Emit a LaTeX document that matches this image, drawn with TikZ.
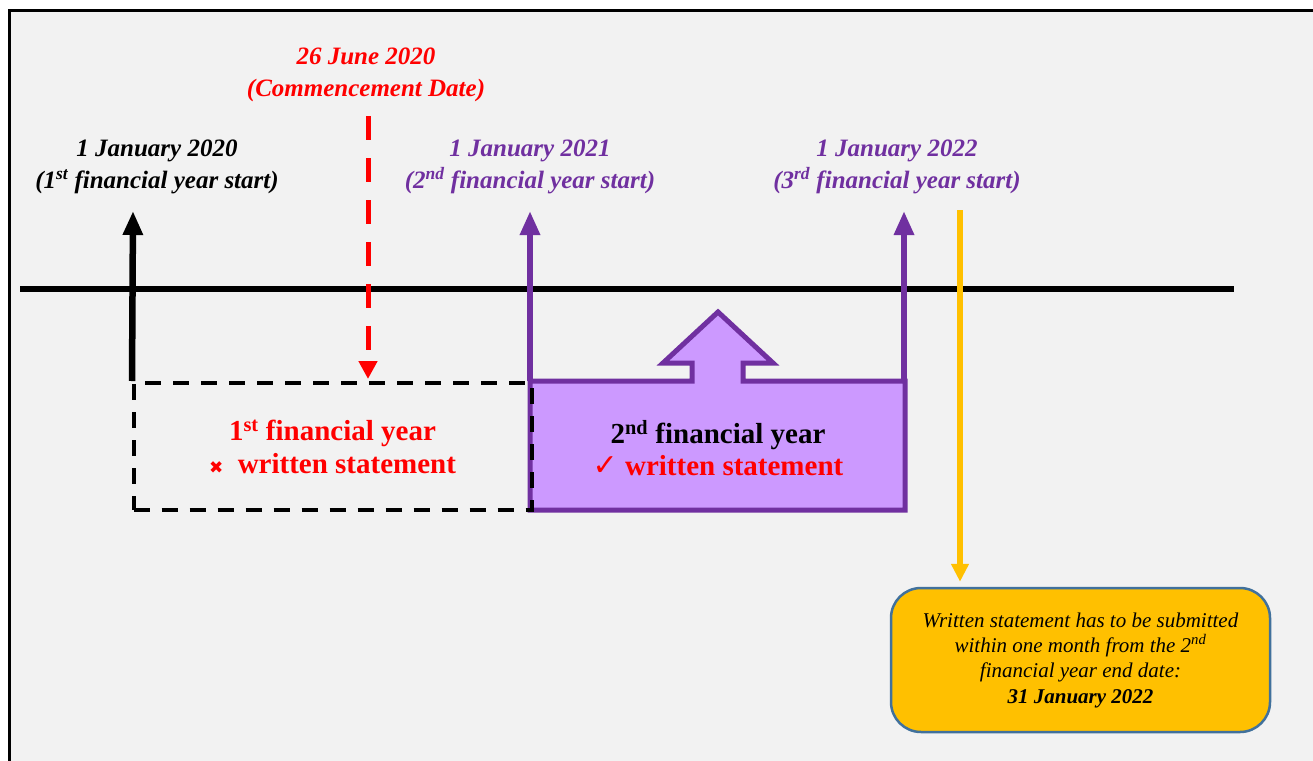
\documentclass[tikz,border=0pt]{standalone}
\usepackage{fontspec}
\setmainfont{Liberation Serif}
\newfontfamily\symfont{DejaVu Sans}
\usetikzlibrary{arrows.meta}
\definecolor{fypurple}{HTML}{7030A0}
\definecolor{fylilac}{HTML}{CC99FF}
\definecolor{fyamber}{HTML}{FFC000}
\definecolor{fyred}{HTML}{FF0000}
\definecolor{fyblue}{HTML}{41719C}
\definecolor{fybg}{HTML}{F2F2F2}

\begin{document}
\begin{tikzpicture}[
		x=1pt, y=-1pt,
		datelabel/.style={font=\fontsize{25}{31.5}\selectfont\bfseries\itshape, align=center, inner sep=0pt},
		yearlabel/.style={font=\fontsize{29}{33}\selectfont\bfseries, align=center, inner sep=0pt},
		startarrow/.style={line width=6.5pt, -{Triangle[width=19pt,length=24pt]}}
	]
	\useasboundingbox (0,0) rectangle (1313,760);
	\clip (0,0) rectangle (1313,760);
	\fill[white] (0,0) rectangle (1313,760);
	\draw[line width=3pt, fill=fybg] (9.5,10.5) rectangle (1340,790);

	% Coordinates
	\coordinate (tl west) at (20,289);
	\coordinate (tl east) at (1234,289);
	\coordinate (start2020) at (133,211);
	\coordinate (start2021) at (530,211);
	\coordinate (start2022) at (904,211);
	\coordinate (commence) at (368,116);
	\coordinate (deadline) at (960,210);
	\coordinate (fy2 nw) at (530,381);
	\coordinate (fy2 ne) at (904,381);

	% Timeline
	\draw[line width=6pt] (tl west) -- (tl east);

	% Financial years
	\draw[fypurple, fill=fylilac, line width=5pt, line join=miter] (fy2 nw) -- (692,381) -- (692,363) -- (663,363) -- (718,312) -- (773,363) -- (743,363) -- (743,381) -- (905,381) -- (905,510) -- (530,510) -- cycle;
	\node[yearlabel] (fy2) at (718,448) {2\textsuperscript{nd} financial year\\[-1pt]{\color{fyred}{\symfont\fontsize{30}{30}\selectfont ✓} written statement}};

	\node[yearlabel, text=fyred, draw=black, line width=4pt, dash pattern=on 16pt off 12pt, minimum width=398pt, minimum height=127pt] (fy1) at (332.5,446.5) {1\textsuperscript{st} financial year\\{\symfont\fontsize{17}{17}\selectfont ✖}\ \ written statement};

	% Connections
	\draw[startarrow] ([xshift=0.5pt]fy1.north west) -- (start2020);
	\draw[startarrow, fypurple] (fy2 nw) -- (start2021);
	\draw[startarrow, fypurple] (fy2 ne) -- (start2022);
	\draw[fyred, line width=5pt, dash pattern=on 24pt off 18pt, -{Triangle[width=18pt,length=18pt]}, shorten >=2pt] (commence) -- (commence |- fy1.north);

	% Callout
	\node[draw=fyblue, line width=2.5pt, fill=fyamber, rounded corners=30pt, minimum width=379pt, minimum height=144pt, align=center, font=\fontsize{21}{25}\selectfont\itshape] (callout) at (1080.5,660) {Written statement has to be submitted\\within one month from the 2\textsuperscript{nd}\\financial year end date:\\[1pt]\textbf{31 January 2022}};
	\draw[fyamber, line width=5.5pt, -{Triangle[width=17pt,length=18pt]}, shorten >=5pt] (deadline) -- (deadline |- callout.north);

	% Labels
	\node[datelabel, text=fyred] (lab commence) at (366,75) {26 June 2020\\(Commencement Date)};
	\node[datelabel] (lab2020) at (157,167) {1 January 2020\\(1\textsuperscript{st} financial year start)};
	\node[datelabel, text=fypurple] (lab2021) at (530,167) {1 January 2021\\(2\textsuperscript{nd} financial year start)};
	\node[datelabel, text=fypurple] (lab2022) at (897,167) {1 January 2022\\(3\textsuperscript{rd} financial year start)};
\end{tikzpicture}
\end{document}
